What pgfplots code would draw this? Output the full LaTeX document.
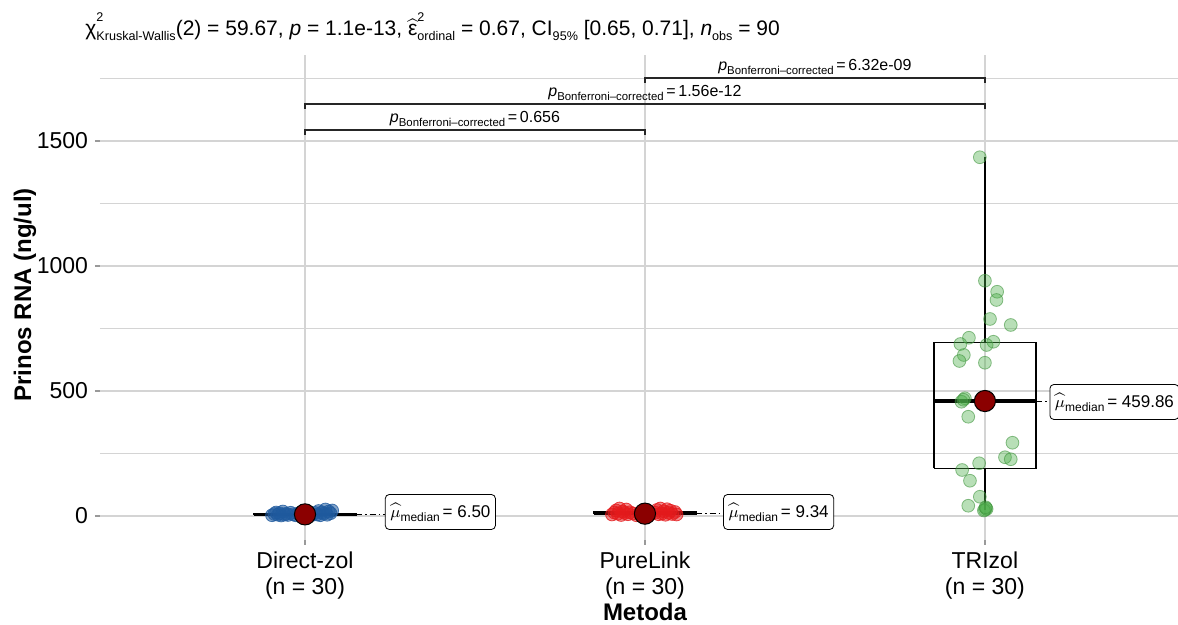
\documentclass[border=0pt]{standalone}
\usepackage{pgfplots}
\pgfplotsset{compat=1.18}
\usepackage{fontspec}
\setmainfont{Liberation Sans}

\definecolor{cblue}{HTML}{1F5A9E}
\definecolor{cred}{HTML}{E41A1C}
\definecolor{cgreen}{HTML}{4DAF4A}
\definecolor{dmed}{HTML}{8B0000}
\definecolor{gridc}{HTML}{D4D4D4}

% small raised / lowered text
\newcommand{\lo}[2][6]{\raisebox{-0.45ex}{\fontsize{#1}{#1}\selectfont #2}}
\newcommand{\hi}[2][6]{\raisebox{1.25ex}{\fontsize{#1}{#1}\selectfont #2}}
\newcommand{\pb}[1]{\textit{p}\lo[5.7]{Bonferroni–corrected}\,=\,#1}
\newcommand{\mumed}[1]{$\widehat{\mu}$\lo[6]{median}\,= #1}

\begin{document}
\begin{tikzpicture}
\path[use as bounding box] (0pt,0pt) rectangle (589pt,312.5pt);
\begin{axis}[
    at={(50pt,42.5pt)}, anchor=south west,
    scale only axis, width=539pt, height=242.5pt,
    xmin=0.397, xmax=3.568, ymin=-96, ymax=1844,
    clip=false,
    axis line style={draw=none},
    tick pos=left, tick align=outside,
    major tick length=2.5pt, minor tick length=0pt,
    tick style={gray!80, line width=0.6pt},
    xtick={1,2,3},
    xticklabels={{Direct-zol\\(n = 30)},{PureLink\\(n = 30)},{TRIzol\\(n = 30)}},
    xticklabel style={align=center, font=\fontsize{11.5}{13}\selectfont},
    ytick={0,500,1000,1500}, yticklabels={0,500,1000,1500},
    minor ytick={250,750,1250,1750},
    yticklabel style={font=\fontsize{11.5}{13}\selectfont},
    xmajorgrids, ymajorgrids, yminorgrids,
    major grid style={gridc, line width=0.6pt},
    minor grid style={gridc, line width=0.6pt},
  ]

  % jittered observations
  \addplot[only marks, mark=*, mark size=3.2pt,
    mark options={fill=cblue, fill opacity=0.55, draw=cblue, draw opacity=0.8, line width=0.4pt}]
    coordinates {
    (0.903,3)(0.910,8)(0.915,14)(0.920,5)(0.925,11)(0.930,2)(0.935,18)(0.940,6)
    (0.945,9)(0.950,4)(0.958,13)(0.965,7)(0.972,3)(0.980,10)(0.990,5)(1.000,6.5)
    (1.010,8)(1.020,4)(1.030,12)(1.035,6)(1.040,20)(1.045,3)(1.050,15)(1.055,9)
    (1.060,26)(1.065,5)(1.070,18)(1.075,11)(1.080,22)(0.995,2)
  };
  \addplot[only marks, mark=*, mark size=3.2pt,
    mark options={fill=cred, fill opacity=0.5, draw=cred, draw opacity=0.8, line width=0.4pt}]
    coordinates {
    (1.903,6)(1.910,14)(1.915,22)(1.920,9)(1.925,30)(1.930,4)(1.935,18)(1.940,12)
    (1.945,26)(1.950,7)(1.956,15)(1.965,10)(1.975,3)(1.985,8)(1.995,11)(2.005,9)
    (2.015,5)(2.030,13)(2.035,24)(2.040,7)(2.045,30)(2.050,10)(2.055,19)(2.060,5)
    (2.065,27)(2.070,12)(2.075,21)(2.080,8)(2.088,16)(2.093,6)
  };
  \addplot[only marks, mark=*, mark size=3.2pt,
    mark options={fill=cgreen, fill opacity=0.4, draw=cgreen!85!black, draw opacity=0.6, line width=0.4pt}]
    coordinates {
    (2.985,1435)(3.000,941)(3.036,897)(3.034,864)(3.015,788)(3.076,764)
    (2.953,713)(2.928,688)(3.025,697)(3.005,684)(2.938,644)(2.925,620)
    (3.000,613)(2.941,471)(2.931,457)(2.937,465)(2.951,397)(3.081,293)
    (3.059,235)(3.076,227)(2.983,211)(2.933,184)(2.956,141)(2.985,77)
    (2.951,41)(3.003,31)(3.000,25)(3.005,28)(2.997,22)(3.002,35)
  };

  % box plots: whiskers, boxes, medians
  \addplot[black, line width=0.6pt] coordinates {(1,0.5)(1,3)};
  \addplot[black, line width=0.6pt] coordinates {(1,11)(1,26)};
  \addplot[black, line width=0.6pt] coordinates {(0.85,3)(1.15,3)(1.15,11)(0.85,11)(0.85,3)};
  \addplot[black, line width=1.6pt] coordinates {(0.85,6.5)(1.15,6.5)};

  \addplot[black, line width=0.6pt] coordinates {(2,2)(2,6)};
  \addplot[black, line width=0.6pt] coordinates {(2,18)(2,30)};
  \addplot[black, line width=0.6pt] coordinates {(1.85,6)(2.15,6)(2.15,18)(1.85,18)(1.85,6)};
  \addplot[black, line width=1.6pt] coordinates {(1.85,9.34)(2.15,9.34)};

  \addplot[black, line width=0.6pt] coordinates {(3,25)(3,191)};
  \addplot[black, line width=0.6pt] coordinates {(3,693)(3,1435)};
  \addplot[black, line width=0.6pt] coordinates {(2.85,191)(3.15,191)(3.15,693)(2.85,693)(2.85,191)};
  \addplot[black, line width=1.6pt] coordinates {(2.85,459.86)(3.15,459.86)};

  % medians
  \addplot[only marks, mark=*, mark size=5.3pt,
    mark options={fill=dmed, draw=black, line width=0.5pt}]
    coordinates {(1,6.5)(2,9.34)(3,459.86)};

  % median labels
  \draw[line width=0.5pt, dash pattern=on 3pt off 1.5pt on 0.8pt off 1.5pt]
    (axis cs:1.15,6.5) -- (axis cs:1.235,6.5);
  \draw[line width=0.5pt, dash pattern=on 3pt off 1.5pt on 0.8pt off 1.5pt]
    (axis cs:2.15,9.34) -- (axis cs:2.23,9.34);
  \draw[line width=0.5pt, dash pattern=on 3pt off 1.5pt on 0.8pt off 1.5pt]
    (axis cs:3.15,459.86) -- (axis cs:3.19,459.86);
  \node[draw, rounded corners=2pt, fill=white, anchor=west, inner xsep=2.5pt,
    minimum height=17.5pt, font=\fontsize{8.5}{10}\selectfont]
    at (axis cs:1.235,16) {\mumed{6.50}};
  \node[draw, rounded corners=2pt, fill=white, anchor=west, inner xsep=2.5pt,
    minimum height=17.5pt, font=\fontsize{8.5}{10}\selectfont]
    at (axis cs:2.23,16) {\mumed{9.34}};
  \node[draw, rounded corners=2pt, fill=white, anchor=west, inner xsep=2.5pt,
    minimum height=17.5pt, font=\fontsize{8.5}{10}\selectfont]
    at (axis cs:3.19,456) {\mumed{459.86}};

  % pairwise comparisons
  \draw[line width=0.6pt, black!85] (axis cs:1,1524) -- (axis cs:1,1544) -- (axis cs:2,1544) -- (axis cs:2,1524);
  \draw[line width=0.6pt, black!85] (axis cs:1,1628) -- (axis cs:1,1648) -- (axis cs:3,1648) -- (axis cs:3,1628);
  \draw[line width=0.6pt, black!85] (axis cs:2,1732) -- (axis cs:2,1752) -- (axis cs:3,1752) -- (axis cs:3,1732);
  \node[anchor=south, inner sep=1.5pt, font=\fontsize{8}{9.6}\selectfont]
    at (axis cs:1.5,1544) {\pb{0.656}};
  \node[anchor=south, inner sep=1.5pt, font=\fontsize{8}{9.6}\selectfont]
    at (axis cs:2,1648) {\pb{1.56e-12}};
  \node[anchor=south, inner sep=1.5pt, font=\fontsize{8}{9.6}\selectfont]
    at (axis cs:2.5,1752) {\pb{6.32e-09}};
\end{axis}

\node[anchor=west, inner sep=0pt, font=\fontsize{10.5}{12}\selectfont] at (42.5pt,299pt)
  {χ\rlap{\hi[6.3]{2}}\lo[6.3]{Kruskal-Wallis}(2) = 59.67, \textit{p} = 1.1e-13,
   $\widehat{\hbox{ε}}$\rlap{\hi[6.3]{2}}\lo[6.3]{ordinal} = 0.67, CI\lo[6.3]{95\%} [0.65, 0.71],
   \textit{n}\lo[6.3]{obs} = 90};
\node[font=\bfseries\fontsize{12}{14}\selectfont] at (322.5pt,6.5pt) {Metoda};
\node[rotate=90, font=\bfseries\fontsize{12}{14}\selectfont] at (12.5pt,165pt) {Prinos RNA (ng/ul)};
\end{tikzpicture}
\end{document}
